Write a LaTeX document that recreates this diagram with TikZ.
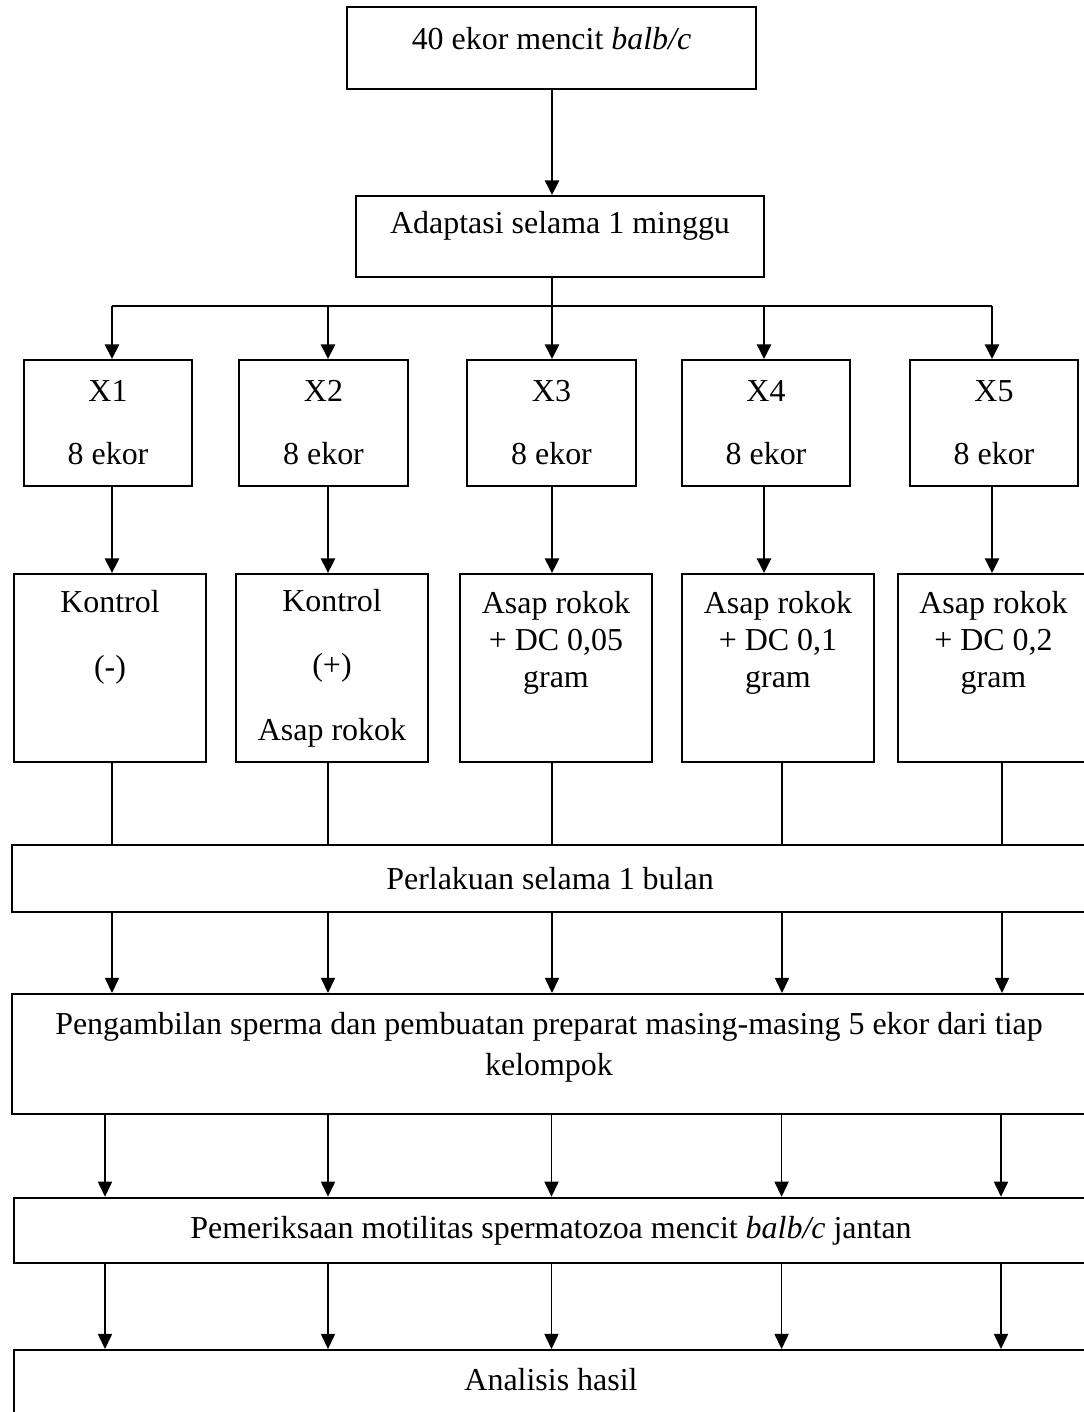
\documentclass[tikz,border=0pt]{standalone}
\usepackage{fontspec}
\setmainfont{Liberation Serif}
\usetikzlibrary{arrows.meta}
\def\pix{0.385pt}

\begin{document}
\begin{tikzpicture}[x=\pix,y=-\pix,font=\fontsize{12.3}{14.3}\selectfont,
  box/.style={draw,line width=0.75pt,inner sep=0pt,align=center},
  boxsize/.style 2 args={minimum width=#1*\pix,minimum height=#2*\pix},
  boxtext/.style={inner sep=0pt,align=center},
  arr/.style={-{Triangle[width=5.4pt,length=5.6pt]},line width=0.75pt},
  arrlow/.style={-{Triangle[width=5.4pt,length=5.8pt]},line width=0.6pt},
  link/.style={line width=0.45pt}]
\useasboundingbox (0,0) rectangle (1084,1412);
\fill[white] (0,0) rectangle (1084,1412);
\clip (0,0) rectangle (1084,1412);

\node[box,boxsize={409}{82}] (start) at (551.5,48) {};
\node[box,boxsize={408}{81}] (adapt) at (560,236.5) {};
\node[box,boxsize={168}{126}] (x1) at (108,423) {X1\\[10pt]8 ekor};
\node[box,boxsize={169}{126}] (x2) at (323.5,423) {X2\\[10pt]8 ekor};
\node[box,boxsize={169}{126}] (x3) at (551.5,423) {X3\\[10pt]8 ekor};
\node[box,boxsize={168}{126}] (x4) at (766,423) {X4\\[10pt]8 ekor};
\node[box,boxsize={168}{126}] (x5) at (994,423) {X5\\[10pt]8 ekor};
\node[box,boxsize={192}{188}] (t1) at (110,668) {};
\node[box,boxsize={192}{188}] (t2) at (332,668) {Kontrol\\[10.5pt](+)\\[10.5pt]Asap rokok};
\node[box,boxsize={192}{188}] (t3) at (556,668) {};
\node[box,boxsize={192}{188}] (t4) at (778,668) {};
\node[box,boxsize={191}{188}] (t5) at (993.5,668) {};
\node[box,boxsize={1076}{67}] (perl) at (550,878.5) {Perlakuan selama 1 bulan};
\node[box,boxsize={1076}{120}] (samp) at (550,1054) {};
\node[box,boxsize={1074}{65.5}] (exam) at (551,1230.5) {Pemeriksaan motilitas spermatozoa mencit \textit{balb/c} jantan};
\node[box,boxsize={1074}{90}] (anal) at (551,1395) {};

\node[boxtext] (start-txt) at (551.5,39) {40 ekor mencit \textit{balb/c}};
\node[boxtext] (adapt-txt) at (560,226) {Adaptasi selama 1 minggu};
\node[boxtext] (t1-txt) at (110,637.5) {Kontrol\\[10.5pt](-)};
\node[boxtext] (t3-txt) at (556,643) {Asap rokok\\+ DC 0,05\\gram};
\node[boxtext] (t4-txt) at (778,643) {Asap rokok\\+ DC 0,1\\gram};
\node[boxtext] (t5-txt) at (993.5,643) {Asap rokok\\+ DC 0,2\\gram};
\node[boxtext] (samp-txt) at (549,1047.5) {Pengambilan sperma dan pembuatan preparat masing-masing 5 ekor dari tiap\\[1.5pt]kelompok};
\node[boxtext] (anal-txt) at (551,1379.5) {Analisis hasil};

\foreach \i/\xa/\xb/\xc in {1/112/112/105,2/328/328/328,3/552/552/551.5,4/764/782/781.6,5/992/1002/1001}{
  \coordinate (up\i) at (\xa,306);
  \coordinate (lo\i) at (\xb,0);
  \coordinate (bt\i) at (\xc,0);
}
\draw[arr] (start.south -| up3) -- (adapt.north -| up3);
\draw[line width=0.75pt] (adapt.south -| up3) -- (up3);
\draw[line width=0.75pt] (up1) -- (up5);
\foreach \i in {1,...,5}{
  \draw[arr] (up\i) -- (up\i |- x\i.north);
  \draw[arr] (x\i.south -| up\i) -- (t\i.north -| up\i);
  \draw[link] (t\i.south -| lo\i) -- (perl.north -| lo\i);
  \draw[arrlow] (perl.south -| lo\i) -- (samp.north -| lo\i);
  \draw[arrlow] (samp.south -| bt\i) -- (exam.north -| bt\i);
  \draw[arrlow] (exam.south -| bt\i) -- (anal.north -| bt\i);
}
\end{tikzpicture}
\end{document}
